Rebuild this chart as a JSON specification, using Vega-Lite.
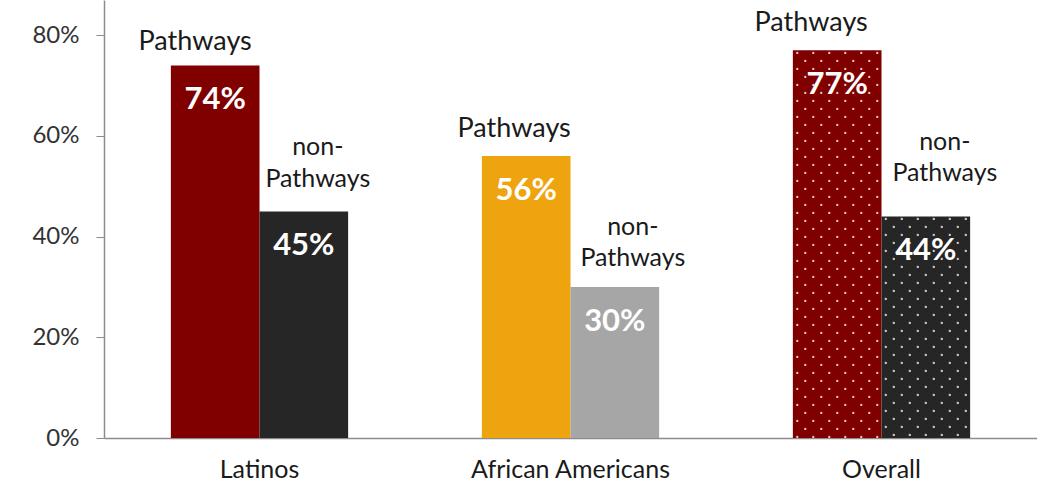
{
  "$schema": "https://vega.github.io/schema/vega-lite/v6.json",
  "width": 933,
  "height": 438,
  "autosize": {"type": "none"},
  "padding": {"left": 104, "top": 0, "right": 0, "bottom": 46},
  "background": "white",
  "config": {"view": {"stroke": null}, "font": "Lato"},
  "data": {
    "values": [
      {"group": "Latinos", "series": "Pathways", "bar": "Latinos Pathways", "value": 0.74},
      {"group": "Latinos", "series": "non-Pathways", "bar": "Latinos non-Pathways", "value": 0.45},
      {"group": "African Americans", "series": "Pathways", "bar": "African Americans Pathways", "value": 0.56},
      {"group": "African Americans", "series": "non-Pathways", "bar": "African Americans non-Pathways", "value": 0.30},
      {"group": "Overall", "series": "Pathways", "bar": "Overall Pathways", "value": 0.77},
      {"group": "Overall", "series": "non-Pathways", "bar": "Overall non-Pathways", "value": 0.44}
    ]
  },
  "encoding": {
    "x": {
      "field": "group", "type": "nominal", "sort": ["Latinos", "African Americans", "Overall"],
      "scale": {"paddingInner": 0.43, "paddingOuter": 0.215},
      "axis": {"title": null, "labelAngle": 0, "ticks": false, "labelFontSize": 25, "labelLimit": 0, "labelColor": "#1a1a1a", "labelPadding": 19, "domainColor": "#8c8c8c", "domainWidth": 1.5, "labelFont": "Lato"}
    },
    "xOffset": {"field": "series", "type": "nominal", "sort": ["Pathways", "non-Pathways"], "scale": {"paddingInner": 0, "paddingOuter": 0}},
    "y": {
      "field": "value", "type": "quantitative",
      "scale": {"domain": [0, 0.87], "nice": false},
      "axis": {"title": null, "values": [0, 0.2, 0.4, 0.6, 0.8], "format": ".0%", "grid": false, "tickSize": 8, "tickColor": "#8c8c8c", "domainColor": "#8c8c8c", "domainWidth": 1.5, "labelFontSize": 24, "labelColor": "#333333", "labelPadding": 17, "labelFont": "Lato"}
    }
  },
  "layer": [
    {
      "mark": {"type": "bar"},
      "encoding": {
        "color": {
          "field": "bar", "type": "nominal", "legend": null,
          "scale": {
            "domain": ["Latinos Pathways", "Latinos non-Pathways", "African Americans Pathways", "African Americans non-Pathways", "Overall Pathways", "Overall non-Pathways"],
            "range": ["#800000", "#262626", "#EEA40F", "#A6A6A6", "#800000", "#262626"]
          }
        }
      }
    },
    {
      "transform": [{"filter": "datum.group === 'Overall'"}],
      "mark": {
        "type": "text", "clip": true, "font": "DejaVu Sans Mono", "fontSize": 13.29, "lineHeight": 8,
        "align": "center", "baseline": "top", "dy": -2, "color": "white", "opacity": 0.85,
        "text": ["· · · · · ·", " · · · · · ", "· · · · · ·", " · · · · · ", "· · · · · ·", " · · · · · ", "· · · · · ·", " · · · · · ", "· · · · · ·", " · · · · · ", "· · · · · ·", " · · · · · ", "· · · · · ·", " · · · · · ", "· · · · · ·", " · · · · · ", "· · · · · ·", " · · · · · ", "· · · · · ·", " · · · · · ", "· · · · · ·", " · · · · · ", "· · · · · ·", " · · · · · ", "· · · · · ·", " · · · · · ", "· · · · · ·", " · · · · · ", "· · · · · ·", " · · · · · ", "· · · · · ·", " · · · · · ", "· · · · · ·", " · · · · · ", "· · · · · ·", " · · · · · ", "· · · · · ·", " · · · · · ", "· · · · · ·", " · · · · · ", "· · · · · ·", " · · · · · ", "· · · · · ·", " · · · · · ", "· · · · · ·", " · · · · · ", "· · · · · ·", " · · · · · ", "· · · · · ·"]
      }
    },
    {
      "mark": {"type": "text", "baseline": "middle", "dy": 35, "fontSize": 31, "fontWeight": "bold", "color": "white", "font": "Lato"},
      "encoding": {"text": {"field": "value", "type": "quantitative", "format": ".0%"}}
    },
    {
      "transform": [{"filter": "datum.series === 'Pathways' && datum.group === 'Latinos'"}],
      "mark": {"type": "text", "baseline": "alphabetic", "dy": -15, "dx": -20, "fontSize": 27, "color": "#1a1a1a", "font": "Lato", "text": "Pathways"}
    },
    {
      "transform": [{"filter": "datum.series === 'Pathways' && datum.group === 'African Americans'"}],
      "mark": {"type": "text", "baseline": "alphabetic", "dy": -19, "dx": -12, "fontSize": 27, "color": "#1a1a1a", "font": "Lato", "text": "Pathways"}
    },
    {
      "transform": [{"filter": "datum.series === 'Pathways' && datum.group === 'Overall'"}],
      "mark": {"type": "text", "baseline": "alphabetic", "dy": -19, "dx": -26, "fontSize": 27, "color": "#1a1a1a", "font": "Lato", "text": "Pathways"}
    },
    {
      "transform": [{"filter": "datum.series === 'non-Pathways' && datum.group === 'Latinos'"}],
      "mark": {"type": "text", "baseline": "alphabetic", "dy": -56, "dx": 14, "fontSize": 25, "lineHeight": 32, "color": "#1a1a1a", "font": "Lato", "text": ["non-", "Pathways"]}
    },
    {
      "transform": [{"filter": "datum.series === 'non-Pathways' && datum.group === 'African Americans'"}],
      "mark": {"type": "text", "baseline": "alphabetic", "dy": -52, "dx": 18, "fontSize": 25, "lineHeight": 31, "color": "#1a1a1a", "font": "Lato", "text": ["non-", "Pathways"]}
    },
    {
      "transform": [{"filter": "datum.series === 'non-Pathways' && datum.group === 'Overall'"}],
      "mark": {"type": "text", "baseline": "alphabetic", "dy": -66, "dx": 19, "fontSize": 25, "lineHeight": 31, "color": "#1a1a1a", "font": "Lato", "text": ["non-", "Pathways"]}
    }
  ]
}
